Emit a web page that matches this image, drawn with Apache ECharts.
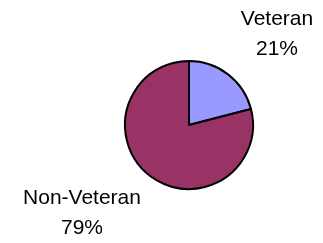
<!DOCTYPE html>
<html lang="en">
<head>
    <meta charset="utf-8">
    <title>Veteran status</title>
    <script src="https://cdn.jsdelivr.net/npm/echarts@6/dist/echarts.min.js"></script>
    <style>
        html, body { margin: 0; padding: 0; background: #fff; }
        #main { width: 323px; height: 243px; }
    </style>
</head>
<body>
<div id="main"></div>
<script type="text/javascript">
    // 数据
    var categories = ['Veteran', 'Non-Veteran'];
    var values = [21, 79];
    var colors = ['#9999ff', '#993366'];

    // 标签位置 (label centers)
    var labelPos = [[277, 34], [82, 213]];

    var chart = echarts.init(document.getElementById('main'));

    var pieData = [];
    for (var i = 0; i < categories.length; i++) {
        pieData.push({
            name: categories[i],
            value: values[i],
            itemStyle: { color: colors[i] }
        });
    }

    var option = {
        animation: false,
        series: [
            {
                type: 'pie',
                center: [189, 125],
                radius: 64,
                startAngle: 90,
                clockwise: true,
                percentPrecision: 0,
                data: pieData,
                itemStyle: {
                    borderColor: '#000',
                    borderWidth: 2
                },
                label: {
                    show: true,
                    position: 'outside',
                    alignTo: 'none',
                    overflow: 'none',
                    formatter: '{b}\n{d}%',
                    fontFamily: 'Liberation Sans, Arial, sans-serif',
                    fontSize: 21,
                    lineHeight: 30,
                    color: '#000',
                    align: 'center'
                },
                labelLine: { show: false },
                labelLayout: function (params) {
                    var p = labelPos[params.dataIndex];
                    return {
                        x: p[0],
                        y: p[1],
                        align: 'center',
                        verticalAlign: 'middle'
                    };
                },
                emphasis: { disabled: true }
            }
        ]
    };
    chart.setOption(option);
</script>
</body>
</html>
